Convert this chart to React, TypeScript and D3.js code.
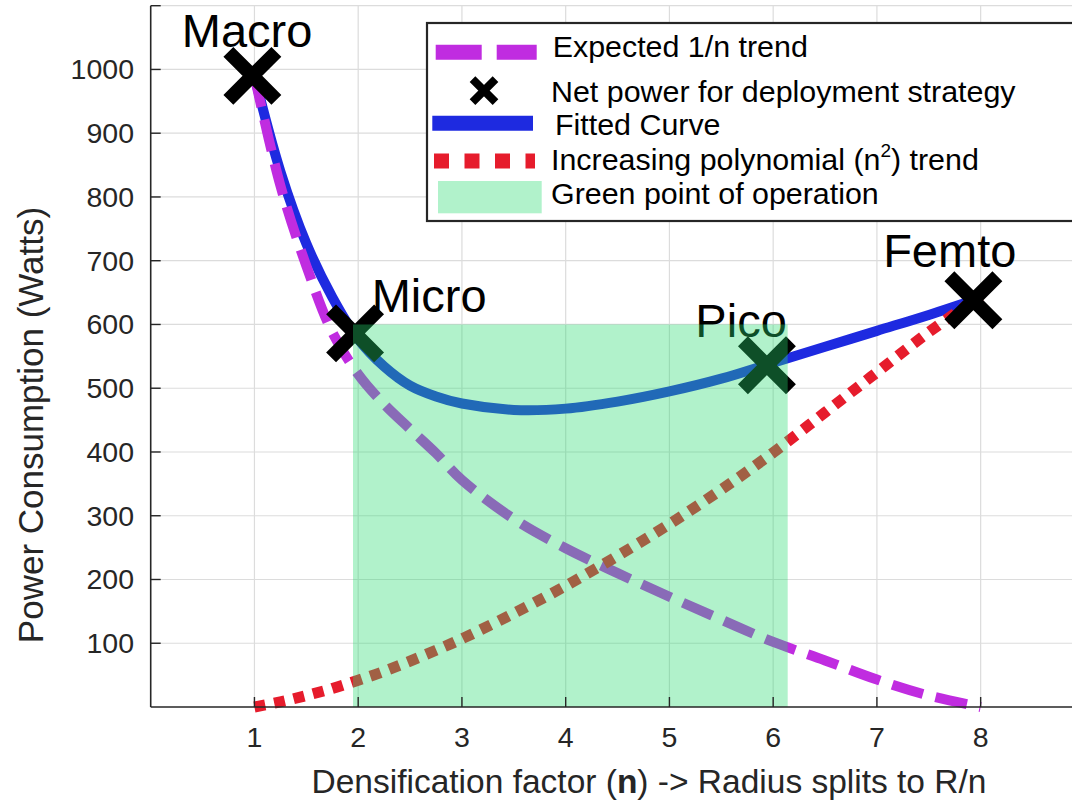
import React, { useEffect, useRef } from 'react';
import * as d3 from 'd3';

// values
const nSamples = [1, 1.25, 1.5, 1.75, 2, 2.25, 2.5, 2.75, 3, 3.5, 4, 4.5, 5, 5.5, 6, 6.5, 7, 7.5, 8];
const expectedTrend = [990, 818, 692, 588, 522, 475, 436, 398, 356, 295, 249, 210, 173, 137, 102, 73, 43, 18, 0];
const fittedCurve = [990, 840, 727, 643, 577, 534, 504, 487, 476, 466, 468, 479, 495, 515, 540, 565, 590, 615, 642];
const polyTrend = [0, 8, 18, 29, 42, 56, 72, 89, 107, 147, 190, 237, 287, 341, 399, 462, 525, 588, 645];

const deployNames = ['Macro', 'Micro', 'Pico', 'Femto'];
const deployN = [0.98, 1.97, 5.94, 7.93];
const deployPower = [990, 586, 536, 638];
const labelN = [0.3, 2.13, 5.25, 7.06];
const labelPower = [1035, 619, 580, 690];

const greenN = [1.95, 6.14];
const greenPower = [0, 600];

const xTicks = [1, 2, 3, 4, 5, 6, 7, 8, 9];
const yTicks = [100, 200, 300, 400, 500, 600, 700, 800, 900, 1000, 1100];

const legendLabels = [
  'Expected 1/n trend',
  'Net power for deployment strategy',
  'Fitted Curve',
  'Increasing polynomial (n²) trend',
  'Green point of operation',
];

const FONT = '"Liberation Sans", Arial, Helvetica, sans-serif';
const AXIS = '#262626';
const MAGENTA = '#c02ce0';
const BLUE = '#1e2ae0';
const RED = '#e61c2c';
const GREEN = 'rgb(40,218,112)';
const GREEN_ALPHA = 0.36;

export default function App() {
  const ref = useRef<SVGSVGElement>(null);

  useEffect(() => {
    const width = 1072;
    const svg = d3.select(ref.current);
    svg.selectAll('*').remove();

    const x = d3.scaleLinear().domain([0, 9]).range([150.7, 1084.4]);
    const y = d3.scaleLinear().domain([0, 1100]).range([707, 5.7]);

    // grid
    const grid = svg.append('g');
    grid.selectAll('line.v')
      .data(xTicks)
      .join('line')
      .attr('class', 'v')
      .attr('x1', d => x(d)).attr('x2', d => x(d))
      .attr('y1', y(0)).attr('y2', y(1100))
      .attr('stroke', '#dcdcdc').attr('stroke-width', 1.2);
    grid.selectAll('line.h')
      .data(yTicks)
      .join('line')
      .attr('class', 'h')
      .attr('x1', x(0)).attr('x2', x(9))
      .attr('y1', d => y(d)).attr('y2', d => y(d))
      .attr('stroke', '#dcdcdc').attr('stroke-width', 1.2);

    const line = (vals: number[]) =>
      d3.line<number>()
        .x((_, i) => x(nSamples[i]))
        .y(d => y(d))
        .curve(d3.curveCatmullRom.alpha(0.5))(vals);

    svg.append('path')
      .attr('d', line(fittedCurve))
      .attr('fill', 'none').attr('stroke', BLUE).attr('stroke-width', 10);
    svg.append('path')
      .attr('d', line(expectedTrend))
      .attr('fill', 'none').attr('stroke', MAGENTA).attr('stroke-width', 10)
      .attr('stroke-dasharray', '32 13');
    svg.append('path')
      .attr('d', line(polyTrend))
      .attr('fill', 'none').attr('stroke', RED).attr('stroke-width', 11)
      .attr('stroke-dasharray', '11 9');

    // markers
    const cross = (g: d3.Selection<SVGGElement, unknown, null, undefined>, cx: number, cy: number, r: number, w: number) => {
      g.append('path')
        .attr('d', `M${cx - r},${cy - r}L${cx + r},${cy + r}M${cx - r},${cy + r}L${cx + r},${cy - r}`)
        .attr('stroke', '#000').attr('stroke-width', w).attr('fill', 'none');
    };
    const marks = svg.append('g');
    deployNames.forEach((name, i) => {
      cross(marks, x(deployN[i]), y(deployPower[i]), 24, 14);
      marks.append('text')
        .attr('x', x(labelN[i])).attr('y', y(labelPower[i]))
        .attr('font-family', FONT).attr('font-size', 47)
        .attr('fill', '#000')
        .text(name);
    });

    // green region drawn over everything
    svg.append('rect')
      .attr('x', x(greenN[0])).attr('width', x(greenN[1]) - x(greenN[0]))
      .attr('y', y(greenPower[1])).attr('height', y(greenPower[0]) - y(greenPower[1]))
      .attr('fill', GREEN).attr('fill-opacity', GREEN_ALPHA);

    // axes
    const ax = svg.append('g');
    ax.append('line')
      .attr('x1', x(0)).attr('x2', width).attr('y1', y(0)).attr('y2', y(0))
      .attr('stroke', AXIS).attr('stroke-width', 1.6);
    ax.append('line')
      .attr('x1', x(0)).attr('x2', x(0)).attr('y1', y(0)).attr('y2', y(1100))
      .attr('stroke', AXIS).attr('stroke-width', 1.6);
    ax.selectAll('line.xt')
      .data(xTicks)
      .join('line')
      .attr('class', 'xt')
      .attr('x1', d => x(d)).attr('x2', d => x(d))
      .attr('y1', y(0)).attr('y2', y(0) - 10)
      .attr('stroke', AXIS).attr('stroke-width', 1.4);
    ax.selectAll('line.yt')
      .data(yTicks)
      .join('line')
      .attr('class', 'yt')
      .attr('x1', x(0)).attr('x2', x(0) + 10)
      .attr('y1', d => y(d)).attr('y2', d => y(d))
      .attr('stroke', AXIS).attr('stroke-width', 1.4);
    ax.selectAll('text.xl')
      .data(xTicks.filter(d => d <= 8))
      .join('text')
      .attr('class', 'xl')
      .attr('x', d => x(d)).attr('y', 747)
      .attr('text-anchor', 'middle')
      .attr('font-family', FONT).attr('font-size', 28.5).attr('fill', AXIS)
      .text(d => d);
    ax.selectAll('text.yl')
      .data(yTicks.filter(d => d <= 1000))
      .join('text')
      .attr('class', 'yl')
      .attr('x', 134).attr('y', d => y(d))
      .attr('dy', '0.35em')
      .attr('text-anchor', 'end')
      .attr('font-family', FONT).attr('font-size', 28.5).attr('fill', AXIS)
      .text(d => d);

    const xlab = ax.append('text')
      .attr('x', 649).attr('y', 793)
      .attr('text-anchor', 'middle')
      .attr('font-family', FONT).attr('font-size', 33.5).attr('fill', AXIS);
    xlab.append('tspan').text('Densification factor (');
    xlab.append('tspan').attr('font-weight', 'bold').text('n');
    xlab.append('tspan').text(') -> Radius splits to R/n');

    ax.append('text')
      .attr('transform', 'translate(43,425) rotate(-90)')
      .attr('text-anchor', 'middle')
      .attr('font-family', FONT).attr('font-size', 35).attr('fill', AXIS)
      .text('Power Consumption (Watts)');

    // legend
    const lg = svg.append('g');
    lg.append('rect')
      .attr('x', 427).attr('y', 23).attr('width', 700).attr('height', 198)
      .attr('fill', '#fff').attr('stroke', AXIS).attr('stroke-width', 2.2);
    lg.append('line')
      .attr('x1', 435.7).attr('x2', 536.7).attr('y1', 52.3).attr('y2', 52.3)
      .attr('stroke', MAGENTA).attr('stroke-width', 15).attr('stroke-dasharray', '46 15');
    cross(lg, 484, 90.7, 11.5, 8);
    lg.append('line')
      .attr('x1', 432.3).attr('x2', 533).attr('y1', 123.3).attr('y2', 123.3)
      .attr('stroke', BLUE).attr('stroke-width', 15);
    lg.append('line')
      .attr('x1', 434).attr('x2', 535).attr('y1', 161).attr('y2', 161)
      .attr('stroke', RED).attr('stroke-width', 15).attr('stroke-dasharray', '15 15.5');
    lg.append('rect')
      .attr('x', 438).attr('y', 181).attr('width', 103.7).attr('height', 32.3)
      .attr('fill', GREEN).attr('fill-opacity', GREEN_ALPHA);

    const rowX = [552.7, 551, 555, 551, 551];
    const rowY = [57.3, 101.7, 135, 170, 204];
    legendLabels.forEach((t, i) => {
      const el = lg.append('text')
        .attr('x', rowX[i]).attr('y', rowY[i])
        .attr('font-family', FONT).attr('font-size', 30.4).attr('fill', '#000');
      if (t.includes('²')) {
        el.append('tspan').text('Increasing polynomial (n');
        el.append('tspan').attr('font-size', 19).attr('dy', -13).text('2');
        el.append('tspan').attr('dy', 13).text(') trend');
      } else {
        el.text(t);
      }
    });
  }, []);

  return (
    <svg
      ref={ref}
      width={1072}
      height={800}
      style={{ position: 'absolute', left: 0, top: 0, background: '#fff' }}
    />
  );
}
